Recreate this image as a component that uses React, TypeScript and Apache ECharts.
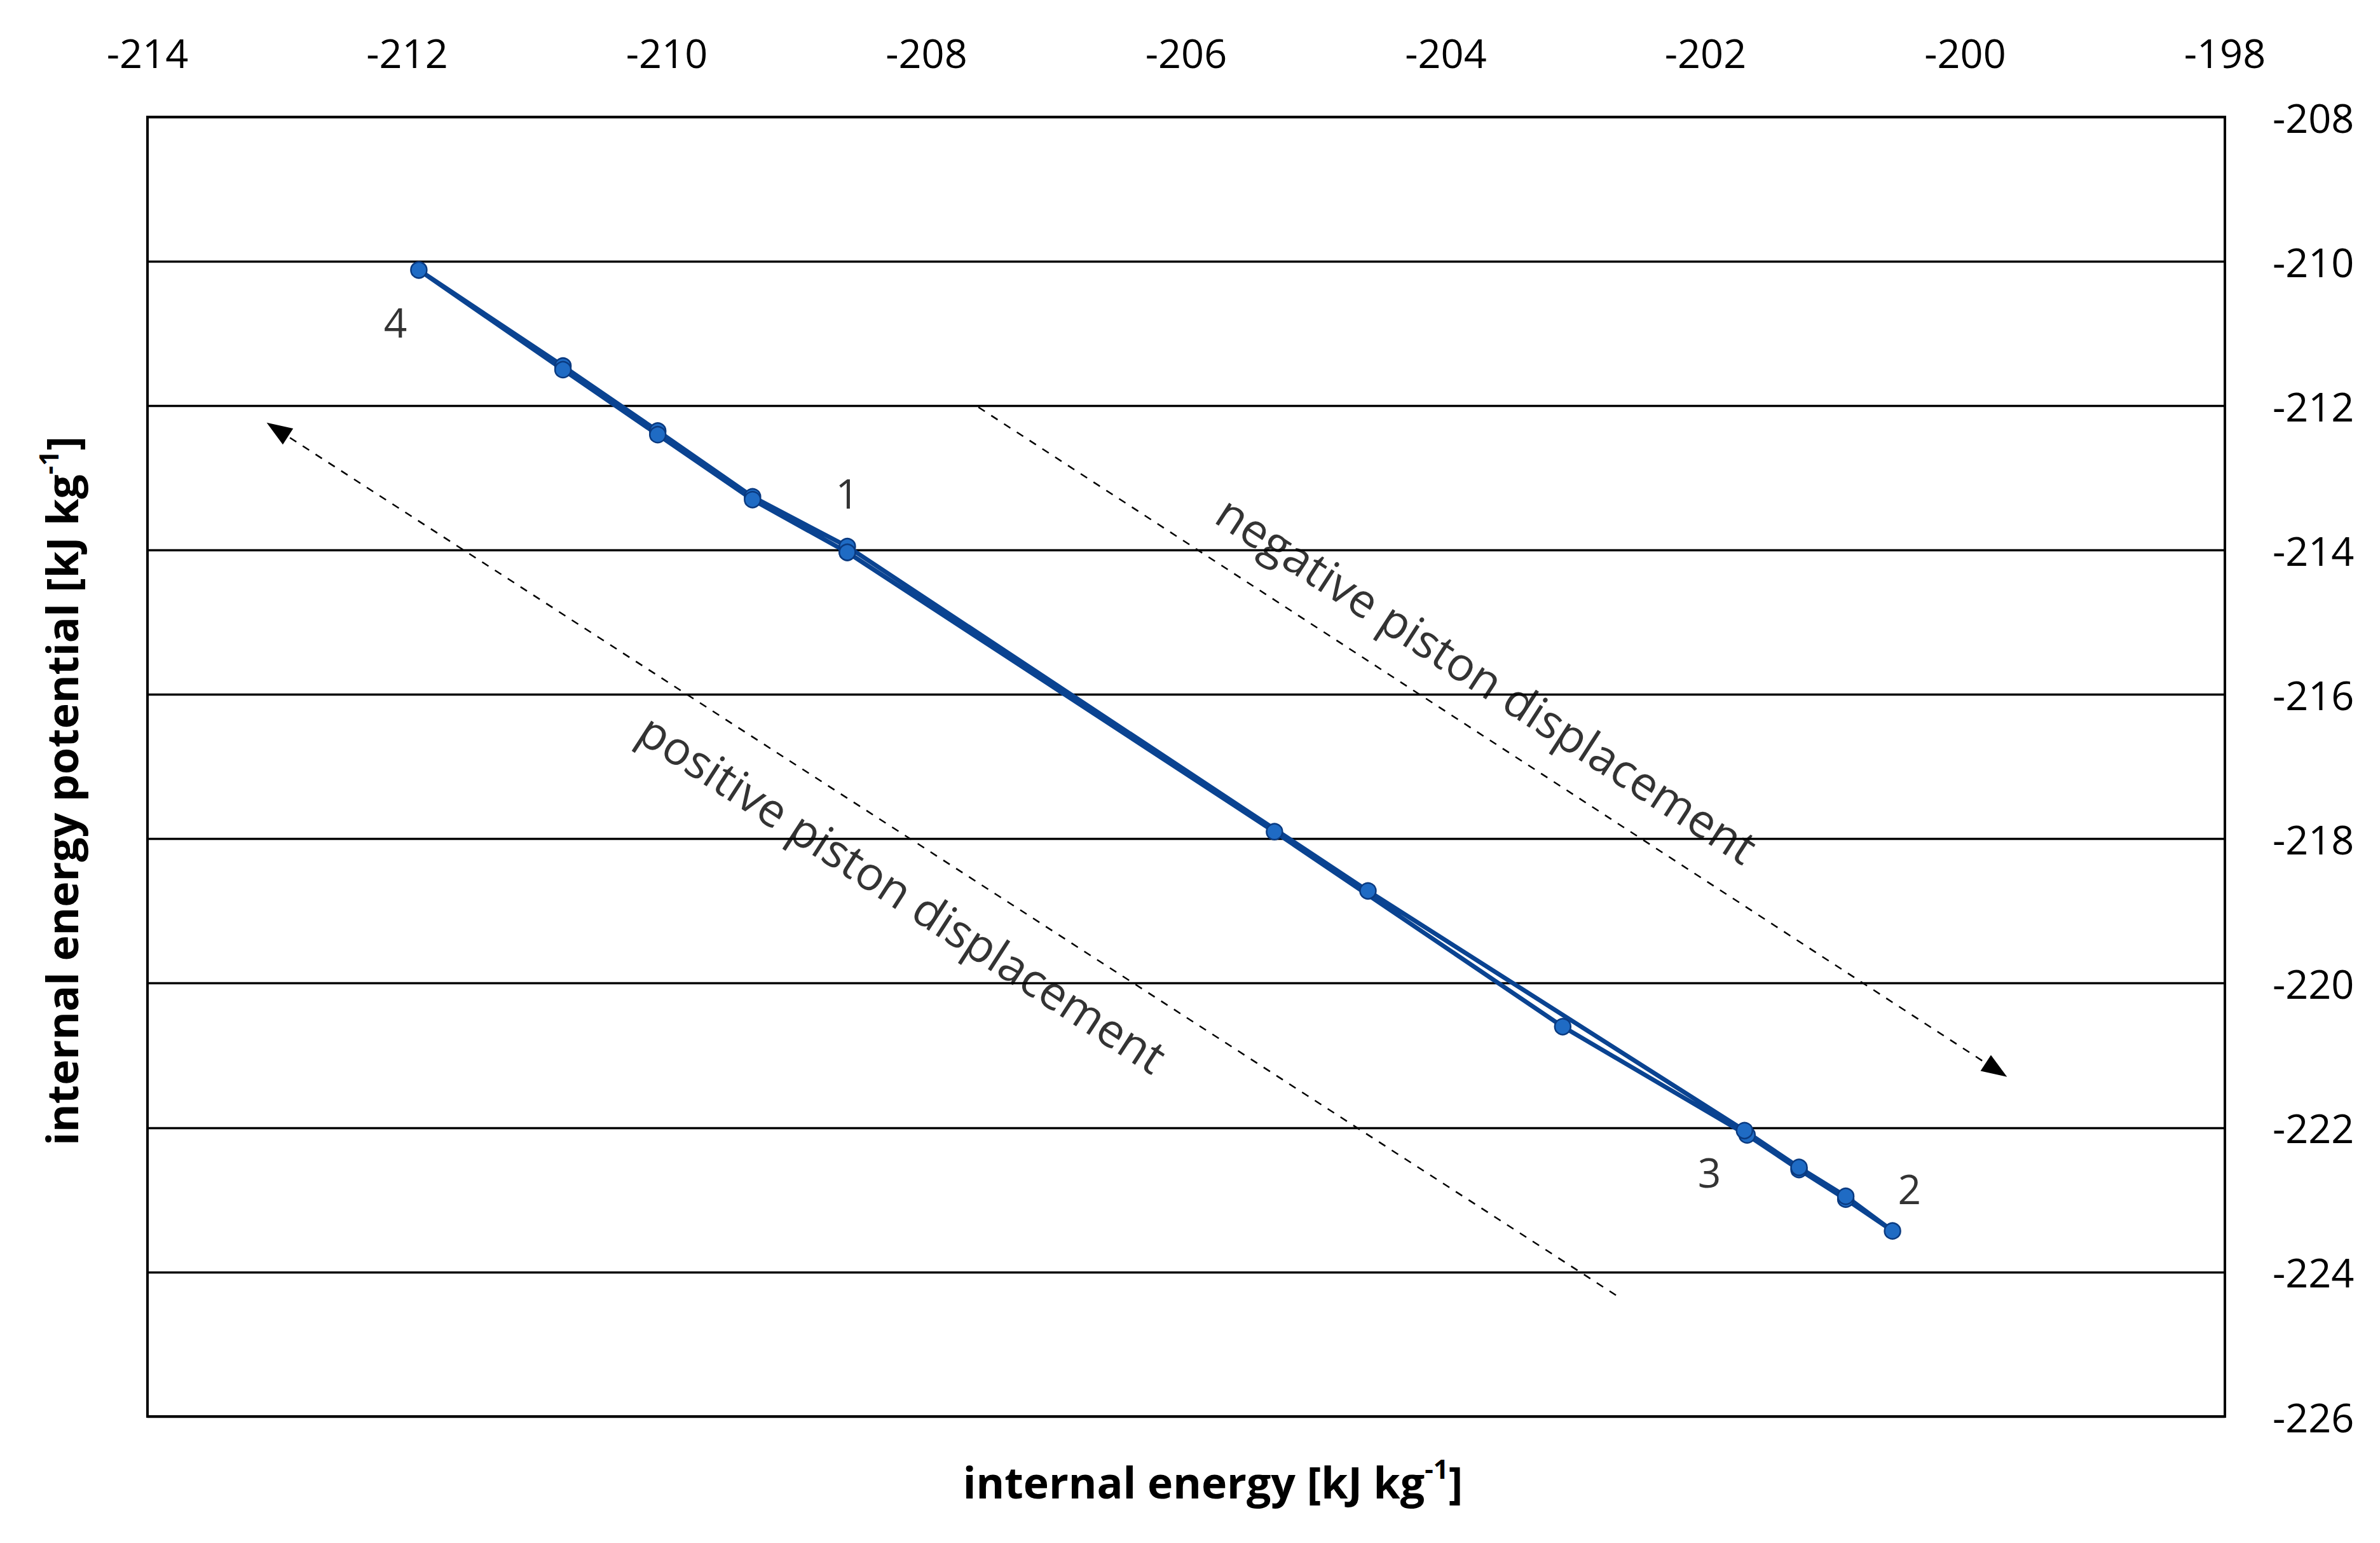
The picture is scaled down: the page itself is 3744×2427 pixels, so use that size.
import React, { useEffect, useRef } from "react";
import * as echarts from "echarts";

// internal energy [kJ/kg] along the cycle 1 -> 2 -> 3 -> 4 -> 1
const cycleEnergy = [
  -208.61, -205.32, -203.1, -201.68, -201.28, -200.92, -200.56,
  -200.92, -201.28, -201.7, -204.6, -208.61, -209.34, -210.07, -210.8, -211.91,
  -210.8, -210.07, -209.34, -208.61,
];
// internal energy potential [kJ/kg]
const cyclePotential = [
  -214.03, -217.9, -220.6, -222.1, -222.58, -222.99, -223.43,
  -222.95, -222.55, -222.04, -218.72, -213.95, -213.26, -212.35, -211.45, -210.12,
  -211.5, -212.4, -213.3, -214.03,
];

const stateNames = ["1", "2", "3", "4"];
const stateLabelEnergy = [-208.61, -200.43, -201.97, -212.09];
const stateLabelPotential = [-213.21, -222.84, -222.61, -210.84];

const noteTexts = ["negative piston displacement", "positive piston displacement"];
const noteEnergy = [-203.68, -208.18];
const notePotential = [-215.78, -218.74];

// dashed arrows: [fromEnergy, fromPotential, toEnergy, toPotential]
const arrowPositive = [-202.69, -224.32, -213.0, -212.33];
const arrowNegative = [-207.6, -212.02, -199.76, -221.2];

const xMin = -214;
const xMax = -198;
const yMin = -226;
const yMax = -208;
const tickStep = 2;

const FONT = "'Open Sans', 'Noto Sans', sans-serif";

export default function App() {
  const ref = useRef<HTMLDivElement>(null);

  useEffect(() => {
    if (!ref.current) return;
    const chart = echarts.init(ref.current, undefined, { renderer: "svg" });

    const cycleData = cycleEnergy.map((u, i) => [u, cyclePotential[i]]);
    const labelData = stateNames.map((n, i) => ({
      name: n,
      value: [stateLabelEnergy[i], stateLabelPotential[i]],
    }));
    const noteData = noteTexts.map((n, i) => ({
      name: n,
      value: [noteEnergy[i], notePotential[i]],
    }));
    const arrowLine = (a: number[]) => [
      { coord: [a[0], a[1]], symbol: "none" },
      { coord: [a[2], a[3]], symbol: "triangle" },
    ];

    const titleRich = {
      a: { fontSize: 68, fontWeight: "bold", fontFamily: FONT, lineHeight: 84, color: "#000" },
      s: { fontSize: 42, fontWeight: "bold", fontFamily: FONT, verticalAlign: "top", lineHeight: 42, color: "#000" },
    };

    const option: any = {
      animation: false,
      backgroundColor: "#ffffff",
      grid: {
        left: 232,
        right: 244,
        top: 184,
        bottom: 199,
        show: true,
        borderColor: "#000000",
        borderWidth: 4,
        containLabel: false,
      },
      xAxis: [
        {
          type: "value",
          position: "top",
          min: xMin,
          max: xMax,
          interval: tickStep,
          axisLine: { show: true, onZero: false, lineStyle: { color: "#000", width: 4 } },
          axisTick: { show: false },
          splitLine: { show: false },
          axisLabel: {
            color: "#000",
            fontSize: 63,
            fontFamily: FONT,
            margin: 70,
          },
        },
        {
          type: "value",
          position: "bottom",
          min: xMin,
          max: xMax,
          interval: tickStep,
          axisLine: { show: true, onZero: false, lineStyle: { color: "#000", width: 4 } },
          axisTick: { show: false },
          splitLine: { show: false },
          axisLabel: { show: false },
        },
      ],
      yAxis: {
        type: "value",
        position: "right",
        min: yMin,
        max: yMax,
        interval: tickStep,
        axisLine: { show: true, onZero: false, lineStyle: { color: "#000", width: 4 } },
        axisTick: { show: false },
        splitLine: { show: true, lineStyle: { color: "#000", width: 3.3 } },
        axisLabel: {
          color: "#000",
          fontSize: 63,
          fontFamily: FONT,
          margin: 75,
        },
      },
      graphic: [
        {
          type: "text",
          x: 1908,
          y: 2330,
          style: {
            text: "{a|internal energy [kJ kg}{s|-1}{a|]}",
            align: "center",
            verticalAlign: "middle",
            fill: "#000",
            rich: titleRich,
          },
        },
        {
          type: "text",
          x: 96,
          y: 1244,
          rotation: Math.PI / 2,
          style: {
            text: "{a|internal energy potential [kJ kg}{s|-1}{a|]}",
            align: "center",
            verticalAlign: "middle",
            fill: "#000",
            rich: titleRich,
          },
        },
      ],
      series: [
        {
          type: "line",
          name: "arrows",
          data: [],
          silent: true,
          markLine: {
            silent: true,
            symbolSize: [30, 40],
            label: { show: false },
            lineStyle: { color: "#000", width: 2.5, type: [12, 12] },
            itemStyle: { color: "#000" },
            emphasis: { disabled: true },
            data: [arrowLine(arrowPositive), arrowLine(arrowNegative)],
          },
        },
        {
          type: "line",
          name: "cycle",
          data: cycleData,
          showSymbol: true,
          symbol: "circle",
          symbolSize: 25,
          lineStyle: { color: "#0A4391", width: 7 },
          itemStyle: { color: "#1F6BC4", borderColor: "#0A3A80", borderWidth: 2.5 },
          z: 5,
        },
        {
          type: "scatter",
          name: "states",
          data: labelData,
          symbolSize: 0,
          silent: true,
          label: {
            show: true,
            position: "inside",
            formatter: (p: any) => p.name,
            color: "#000",
            fontSize: 64,
            fontFamily: FONT,
          },
        },
        {
          type: "scatter",
          name: "notes",
          data: noteData,
          symbolSize: 0,
          silent: true,
          label: {
            show: true,
            position: "inside",
            formatter: (p: any) => p.name,
            rotate: -33,
            color: "#000",
            fontSize: 73,
            fontFamily: FONT,
          },
        },
      ],
    };

    chart.setOption(option);
    return () => chart.dispose();
  }, []);

  return (
    <div
      ref={ref}
      style={{ position: "fixed", left: 0, top: 0, width: 3744, height: 2427, background: "#fff" }}
    />
  );
}
